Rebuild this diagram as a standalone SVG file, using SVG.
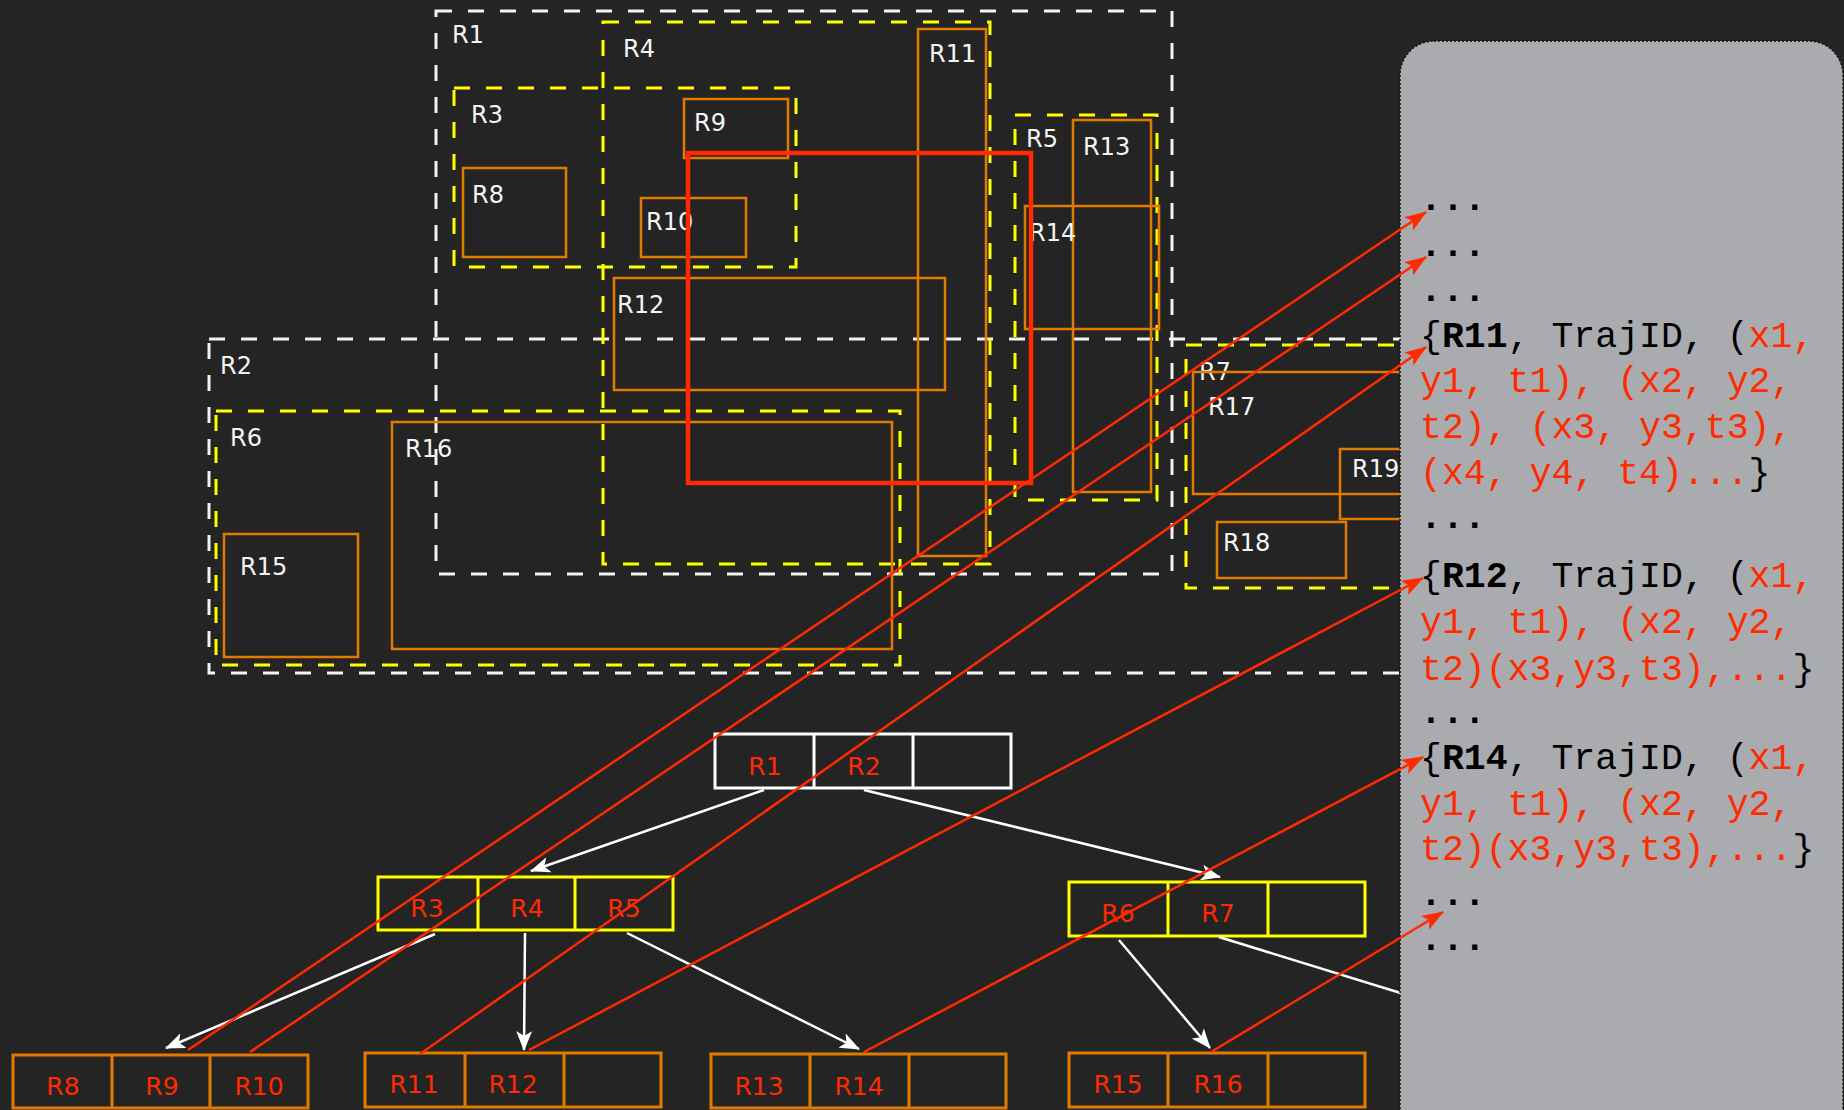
<svg xmlns="http://www.w3.org/2000/svg" width="1844" height="1110" viewBox="0 0 1844 1110">
<defs>
<style>
.wd{fill:none;stroke:#f2f2f2;stroke-width:3;stroke-dasharray:16 16}
.yd{fill:none;stroke:#ffff00;stroke-width:3;stroke-dasharray:16 16}
.or{fill:none;stroke:#e37a00;stroke-width:2.5}
.ml{font-family:"DejaVu Sans",sans-serif;font-size:24px;fill:#f5f5f5}
.tl{font-family:"DejaVu Sans",sans-serif;font-size:25px;fill:#ff2a00;text-anchor:middle}
.nw{fill:none;stroke:#ffffff;stroke-width:3}
.ny{fill:none;stroke:#ffff00;stroke-width:3}
.no{fill:none;stroke:#e37a00;stroke-width:3}
.we{fill:none;stroke:#ffffff;stroke-width:2.5}
.re{fill:none;stroke:#ff2a00;stroke-width:2.5}
.pt{font-family:"Liberation Mono","Courier New",monospace;font-size:36.5px;fill:#000}
.r{fill:#ff2a00}
.b{font-weight:bold}
</style>
<marker id="aw" viewBox="0 0 20 16" refX="19" refY="8" markerWidth="20" markerHeight="16" markerUnits="userSpaceOnUse" orient="auto"><path d="M0,0 L20,8 L0,16 L5,8 Z" fill="#ffffff"/></marker>
<marker id="ar" viewBox="0 0 22 16" refX="21" refY="8" markerWidth="22" markerHeight="16" markerUnits="userSpaceOnUse" orient="auto"><path d="M0,0 L22,8 L0,16 L5,8 Z" fill="#ff2a00"/></marker>
</defs>
<rect x="0" y="0" width="1844" height="1110" fill="#242424"/>

<g id="map">
<g id="R1"><rect class="wd" x="436" y="11" width="736" height="563"/><text class="ml" x="452" y="43">R1</text></g>
<g id="R2"><rect class="wd" x="209" y="339" width="1260" height="334"/><text class="ml" x="220" y="374">R2</text></g>
<g id="R3"><rect class="yd" x="454" y="88" width="342" height="179"/><text class="ml" x="471" y="123">R3</text></g>
<g id="R4"><rect class="yd" x="603" y="22" width="387" height="542"/><text class="ml" x="623" y="57">R4</text></g>
<g id="R5"><rect class="yd" x="1015" y="115" width="142" height="385"/><text class="ml" x="1026" y="147">R5</text></g>
<g id="R6"><rect class="yd" x="216" y="411" width="684" height="254"/><text class="ml" x="230" y="446">R6</text></g>
<g id="R7"><rect class="yd" x="1186" y="345" width="300" height="243"/><text class="ml" x="1199" y="380">R7</text></g>
<g id="R8"><rect class="or" x="463" y="168" width="103" height="89"/><text class="ml" x="472" y="203">R8</text></g>
<g id="R9"><rect class="or" x="684" y="99" width="104" height="59"/><text class="ml" x="694" y="131">R9</text></g>
<g id="R10"><rect class="or" x="641" y="198" width="105" height="59"/><text class="ml" x="646" y="230">R10</text></g>
<g id="R11"><rect class="or" x="918" y="29" width="68" height="527"/><text class="ml" x="929" y="62">R11</text></g>
<g id="R12"><rect class="or" x="614" y="278" width="331" height="112"/><text class="ml" x="617" y="313">R12</text></g>
<g id="R13"><rect class="or" x="1073" y="120" width="78" height="372"/><text class="ml" x="1083" y="155">R13</text></g>
<g id="R14"><rect class="or" x="1025" y="206" width="134" height="123"/><text class="ml" x="1029" y="241">R14</text></g>
<g id="R15"><rect class="or" x="224" y="534" width="134" height="123"/><text class="ml" x="240" y="575">R15</text></g>
<g id="R16"><rect class="or" x="392" y="422" width="500" height="227"/><text class="ml" x="405" y="457">R16</text></g>
<g id="R17"><rect class="or" x="1193" y="372" width="300" height="122"/><text class="ml" x="1208" y="415">R17</text></g>
<g id="R18"><rect class="or" x="1217" y="522" width="129" height="56"/><text class="ml" x="1223" y="551">R18</text></g>
<g id="R19"><rect class="or" x="1340" y="449" width="150" height="70"/><text class="ml" x="1352" y="477">R19</text></g>
<g id="query"><rect x="688" y="153" width="343" height="330" fill="none" stroke="#ff2a00" stroke-width="4.5"/></g>
</g>

<g id="tree">
<g id="node-root"><rect class="nw" x="715" y="734" width="296" height="54"/><line class="nw" x1="814" y1="734" x2="814" y2="788"/><line class="nw" x1="913" y1="734" x2="913" y2="788"/><text class="tl" x="765" y="775">R1</text><text class="tl" x="864" y="775">R2</text></g>
<g id="node-R3R4R5"><rect class="ny" x="378" y="877" width="295" height="53"/><line class="ny" x1="478" y1="877" x2="478" y2="930"/><line class="ny" x1="575" y1="877" x2="575" y2="930"/><text class="tl" x="427" y="917">R3</text><text class="tl" x="527" y="917">R4</text><text class="tl" x="624" y="917">R5</text></g>
<g id="node-R6R7"><rect class="ny" x="1069" y="882" width="296" height="54"/><line class="ny" x1="1168" y1="882" x2="1168" y2="936"/><line class="ny" x1="1268" y1="882" x2="1268" y2="936"/><text class="tl" x="1118" y="922">R6</text><text class="tl" x="1218" y="922">R7</text></g>
<g id="node-R8R9R10"><rect class="no" x="13" y="1055" width="295" height="53"/><line class="no" x1="112" y1="1055" x2="112" y2="1108"/><line class="no" x1="210" y1="1055" x2="210" y2="1108"/><text class="tl" x="63" y="1095">R8</text><text class="tl" x="162" y="1095">R9</text><text class="tl" x="259" y="1095">R10</text></g>
<g id="node-R11R12"><rect class="no" x="365" y="1053" width="296" height="54"/><line class="no" x1="465" y1="1053" x2="465" y2="1107"/><line class="no" x1="564" y1="1053" x2="564" y2="1107"/><text class="tl" x="414" y="1093">R11</text><text class="tl" x="513" y="1093">R12</text></g>
<g id="node-R13R14"><rect class="no" x="711" y="1054" width="295" height="54"/><line class="no" x1="810" y1="1054" x2="810" y2="1108"/><line class="no" x1="909" y1="1054" x2="909" y2="1108"/><text class="tl" x="759" y="1095">R13</text><text class="tl" x="859" y="1095">R14</text></g>
<g id="node-R15R16"><rect class="no" x="1069" y="1053" width="296" height="54"/><line class="no" x1="1168" y1="1053" x2="1168" y2="1107"/><line class="no" x1="1268" y1="1053" x2="1268" y2="1107"/><text class="tl" x="1118" y="1093">R15</text><text class="tl" x="1218" y="1093">R16</text></g>
</g>

<g id="tree-edges">
<line class="we" x1="764" y1="790" x2="531" y2="871" marker-end="url(#aw)"/>
<line class="we" x1="864" y1="790" x2="1220" y2="877" marker-end="url(#aw)"/>
<line class="we" x1="435" y1="934" x2="166" y2="1048" marker-end="url(#aw)"/>
<line class="we" x1="525" y1="933" x2="524" y2="1050" marker-end="url(#aw)"/>
<line class="we" x1="627" y1="933" x2="859" y2="1049" marker-end="url(#aw)"/>
<line class="we" x1="1119" y1="940" x2="1210" y2="1048" marker-end="url(#aw)"/>
<line class="we" x1="1219" y1="937" x2="1420" y2="999"/>
</g>

<g id="data-panel">
<rect x="1400" y="41" width="443" height="1110" rx="34" fill="#aaabaf" stroke="#111" stroke-width="1.5" stroke-dasharray="2 2"/>
<text class="pt b" x="1420" y="210">...</text>
<text class="pt b" x="1420" y="256">...</text>
<text class="pt b" x="1420" y="301">...</text>
<text class="pt" x="1420" y="347">{<tspan class="b">R11</tspan>, TrajID, (<tspan class="r">x1,</tspan></text>
<text class="pt r" x="1420" y="392">y1, t1), (x2, y2,</text>
<text class="pt r" x="1420" y="438">t2), (x3, y3,t3),</text>
<text class="pt" x="1420" y="484"><tspan class="r">(x4, y4, t4)...</tspan>}</text>
<text class="pt b" x="1420" y="528">...</text>
<text class="pt" x="1420" y="587">{<tspan class="b">R12</tspan>, TrajID, (<tspan class="r">x1,</tspan></text>
<text class="pt r" x="1420" y="633">y1, t1), (x2, y2,</text>
<text class="pt" x="1420" y="680"><tspan class="r">t2)(x3,y3,t3),...</tspan>}</text>
<text class="pt b" x="1420" y="723">...</text>
<text class="pt" x="1420" y="769">{<tspan class="b">R14</tspan>, TrajID, (<tspan class="r">x1,</tspan></text>
<text class="pt r" x="1420" y="815">y1, t1), (x2, y2,</text>
<text class="pt" x="1420" y="860"><tspan class="r">t2)(x3,y3,t3),...</tspan>}</text>
<text class="pt b" x="1420" y="905">...</text>
<text class="pt b" x="1420" y="950">...</text>
</g>

<g id="pointer-edges">
<line class="re" x1="188" y1="1050" x2="1426" y2="212" marker-end="url(#ar)"/>
<line class="re" x1="250" y1="1052" x2="1426" y2="257" marker-end="url(#ar)"/>
<line class="re" x1="420" y1="1054" x2="1426" y2="347" marker-end="url(#ar)"/>
<line class="re" x1="529" y1="1050" x2="1423" y2="578" marker-end="url(#ar)"/>
<line class="re" x1="864" y1="1052" x2="1423" y2="757" marker-end="url(#ar)"/>
<line class="re" x1="1211" y1="1052" x2="1443" y2="912" marker-end="url(#ar)"/>
</g>
</svg>
